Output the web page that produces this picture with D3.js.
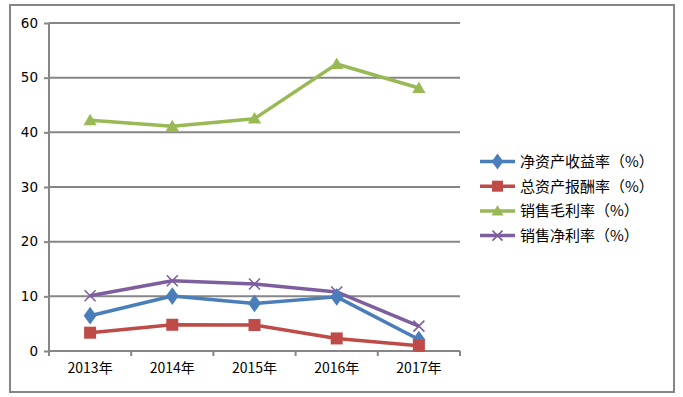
<!DOCTYPE html>
<html><head><meta charset="utf-8">
<script src="https://cdn.jsdelivr.net/npm/d3@7"></script>
<style>body{margin:0;background:#fff}svg{display:block}</style>
</head><body>
<script>
const years = ["2013年","2014年","2015年","2016年","2017年"];
const yTicks = [0,10,20,30,40,50,60];
const seriesNames = ["净资产收益率（%）","总资产报酬率（%）","销售毛利率（%）","销售净利率（%）"];
const roe   = [6.45, 10.05, 8.7, 9.9, 2.1];
const roa   = [3.35, 4.8, 4.75, 2.3, 0.95];
const gross = [42.2, 41.1, 42.5, 52.5, 48.1];
const net   = [10.1, 12.85, 12.25, 10.8, 4.55];
const colors = ["#4a7ebb","#be4b48","#98b954","#7d5fa0"];
const markers = ["diamond","square","triangle","cross"];

const W=683,H=397;
const svg=d3.select("body").append("svg").attr("width",W).attr("height",H);
const font="'DejaVu Sans','Noto Sans',sans-serif";
const cjk="'Noto Sans CJK SC',sans-serif";

svg.append("rect").attr("x",10).attr("y",5).attr("width",664).attr("height",387)
  .attr("fill","#fff").attr("stroke","#868686").attr("stroke-width",2);

const x=d3.scaleBand().domain(years).range([49,460]);
const y=d3.scaleLinear().domain([0,60]).range([351,23]);

svg.append("g").selectAll("line").data(yTicks.filter(d=>d>0)).join("line")
  .attr("x1",49).attr("x2",460).attr("y1",d=>y(d)).attr("y2",d=>y(d))
  .attr("stroke","#868686").attr("stroke-width",2);

const ya=svg.append("g").attr("transform","translate(49,0)")
  .call(d3.axisLeft(y).tickValues(yTicks).tickSize(5).tickPadding(6));
ya.select(".domain").attr("stroke","#868686").attr("stroke-width",2).attr("d","M0,23V351");
ya.selectAll(".tick line").attr("stroke","#868686").attr("stroke-width",2);
ya.selectAll("text").attr("font-family",font).attr("font-size",13.5).attr("fill","#000");

const xa=svg.append("g").attr("transform","translate(0,351)")
  .call(d3.axisBottom(x).tickSize(0).tickPadding(12));
xa.select(".domain").attr("stroke","#868686").attr("stroke-width",2).attr("d","M49,0H460");
xa.selectAll("text").attr("font-family",cjk).attr("font-size",14).attr("fill","#000");
const bounds=[...years.map(d=>x(d)),460];
xa.selectAll(".xt").data(bounds).join("line").attr("class","xt")
  .attr("x1",d=>d).attr("x2",d=>d).attr("y1",0).attr("y2",5)
  .attr("stroke","#868686").attr("stroke-width",2);

function marker(g,type,color,size){
  if(type==="diamond"){
    g.append("path").attr("d",d3.symbol(d3.symbolDiamond,size*size*0.75)()).attr("fill",color)
     .attr("transform","scale(1.25,1)");
  } else if(type==="square"){
    g.append("rect").attr("x",-size/2).attr("y",-size/2).attr("width",size).attr("height",size).attr("fill",color);
  } else if(type==="triangle"){
    g.append("path").attr("d",`M0,${-size*0.6}L${size*0.6},${size*0.45}L${-size*0.6},${size*0.45}Z`).attr("fill",color);
  } else {
    const s=size*0.5;
    g.append("path").attr("d",`M${-s},${-s}L${s},${s}M${-s},${s}L${s},${-s}`).attr("stroke",color).attr("stroke-width",1.6).attr("fill","none");
  }
}

const data=[roe,roa,gross,net];
const line=d3.line().x((d,i)=>x(years[i])+x.bandwidth()/2).y(d=>y(d));
const order=[2,3,0,1];
order.forEach(k=>{
  const vals=data[k];
  svg.append("path").attr("d",line(vals)).attr("fill","none").attr("stroke",colors[k])
    .attr("stroke-width",3.5).attr("stroke-linejoin","round");
  vals.forEach((v,i)=>{
    const g=svg.append("g").attr("transform",`translate(${x(years[i])+x.bandwidth()/2},${y(v)})`);
    marker(g,markers[k],colors[k],k===1?12:11);
  });
});

const lg=svg.append("g");
seriesNames.forEach((n,k)=>{
  const cy=161.5+k*24.7;
  lg.append("line").attr("x1",480).attr("x2",515).attr("y1",cy).attr("y2",cy)
    .attr("stroke",colors[k]).attr("stroke-width",3.5);
  const g=lg.append("g").attr("transform",`translate(497.5,${cy})`);
  marker(g,markers[k],colors[k],k===1?11:10);
  lg.append("text").attr("x",520).attr("y",cy).attr("dy","0.36em")
    .attr("font-family",cjk).attr("font-size",15).attr("fill","#000").text(n);
});
</script>
</body></html>
